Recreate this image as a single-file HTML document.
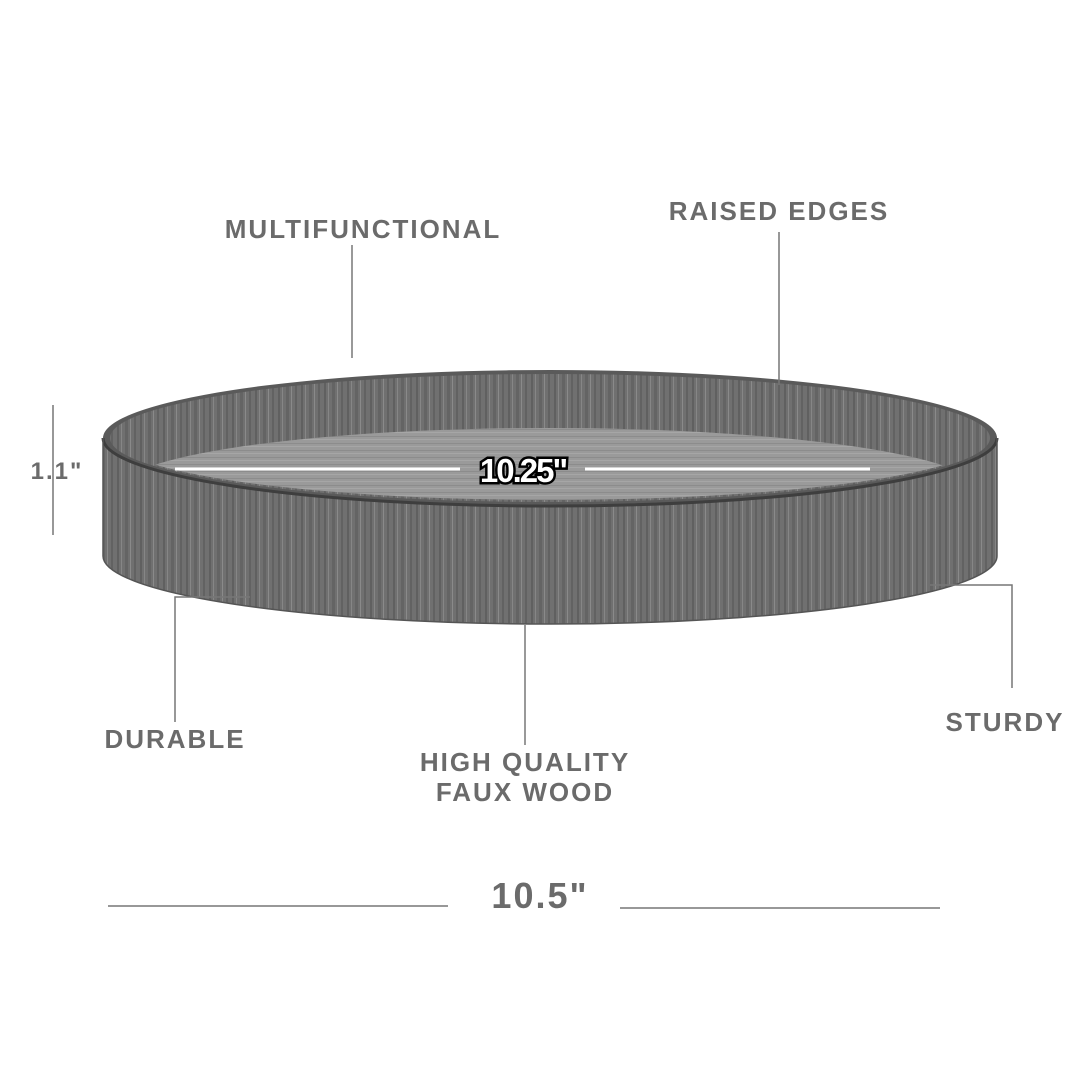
<!DOCTYPE html>
<html><head><meta charset="utf-8"><style>
html,body{margin:0;padding:0;background:#fff;}
svg{display:block}
.t{font-family:"Liberation Sans",sans-serif;font-weight:bold;fill:#6b6b6b;letter-spacing:2px}
</style></head><body>
<svg width="1080" height="1080" viewBox="0 0 1080 1080" xmlns="http://www.w3.org/2000/svg">
<defs>
<pattern id="wood" width="23" height="200" patternUnits="userSpaceOnUse">
<rect width="23" height="200" fill="#707070"/>
<rect x="2" width="2" height="200" fill="#606060"/>
<rect x="6" width="1" height="200" fill="#868686"/>
<rect x="10" width="3" height="200" fill="#646464"/>
<rect x="15" width="1" height="200" fill="#8a8a8a"/>
<rect x="19" width="2" height="200" fill="#626262"/>
</pattern>
<pattern id="floor" width="200" height="7" patternUnits="userSpaceOnUse">
<rect width="200" height="7" fill="#9a9a9a"/>
<rect y="2" width="200" height="1" fill="#8c8c8c"/>
<rect y="5" width="200" height="1" fill="#a6a6a6"/>
</pattern>
<clipPath id="inner"><ellipse cx="550" cy="438" rx="437" ry="62"/></clipPath>
</defs>
<path d="M103 438 L103 556 A447 68 0 0 0 997 556 L997 438 Z" fill="url(#wood)"/>
<ellipse cx="550" cy="438" rx="447" ry="68" fill="#5a5a5a"/>
<ellipse cx="550" cy="438" rx="440" ry="64" fill="url(#wood)"/>
<g clip-path="url(#inner)">
<ellipse cx="548" cy="490" rx="430" ry="62" fill="url(#floor)"/>
</g>
<path d="M103 438 A447 68 0 0 0 997 438" fill="none" stroke="#3e3e3e" stroke-width="3"/>
<path d="M103 438 L103 556 A447 68 0 0 0 997 556 L997 438" fill="none" stroke="#555" stroke-width="1.5"/>
<line x1="175" y1="469" x2="460" y2="469" stroke="#fff" stroke-width="3"/>
<line x1="585" y1="469" x2="870" y2="469" stroke="#fff" stroke-width="3"/>
<text x="523" y="482" text-anchor="middle" font-family="Liberation Sans,sans-serif" font-weight="bold" font-size="33" fill="#fff" stroke="#000" stroke-width="5" paint-order="stroke" letter-spacing="-2">10.25"</text>
<g stroke="#777" stroke-width="1.5" fill="none">
<line x1="352" y1="245" x2="352" y2="358"/>
<line x1="779" y1="232" x2="779" y2="385"/>
<line x1="53" y1="405" x2="53" y2="535"/>
<polyline points="250,597 175,597 175,722"/>
<line x1="525" y1="625" x2="525" y2="745"/>
<polyline points="930,585 1012,585 1012,688"/>
<line x1="108" y1="906" x2="448" y2="906"/>
<line x1="620" y1="908" x2="940" y2="908"/>
</g>
<text class="t" x="363" y="238" text-anchor="middle" font-size="26">MULTIFUNCTIONAL</text>
<text class="t" x="779" y="220" text-anchor="middle" font-size="26">RAISED EDGES</text>
<text class="t" x="57" y="479" text-anchor="middle" font-size="24">1.1"</text>
<text class="t" x="175" y="748" text-anchor="middle" font-size="26">DURABLE</text>
<text class="t" x="525" y="771" text-anchor="middle" font-size="26">HIGH QUALITY</text>
<text class="t" x="525" y="801" text-anchor="middle" font-size="26">FAUX WOOD</text>
<text class="t" x="1005" y="731" text-anchor="middle" font-size="26">STURDY</text>
<text class="t" x="540" y="908" text-anchor="middle" font-size="36">10.5"</text>
</svg>
</body></html>
